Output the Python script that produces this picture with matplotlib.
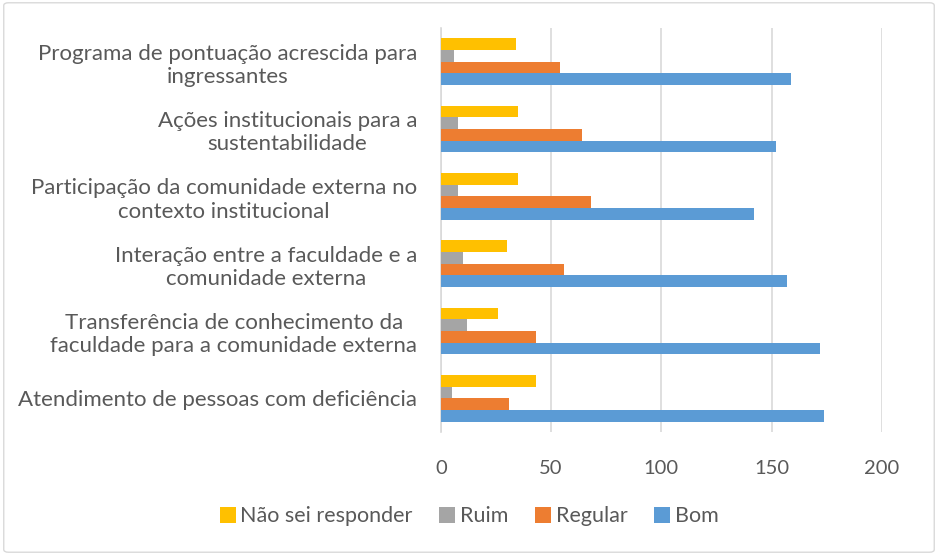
import matplotlib
matplotlib.use("Agg")
import matplotlib.pyplot as plt
import numpy as np
from matplotlib.patches import FancyBboxPatch

categories = [
    "Atendimento de pessoas com deficiência",
    "Transferência de conhecimento da\nfaculdade para a comunidade externa",
    "Interação entre a faculdade e a\ncomunidade externa",
    "Participação da comunidade externa no\ncontexto institucional",
    "Ações institucionais para a\nsustentabilidade",
    "Programa de pontuação acrescida para\ningressantes",
]
bom = [174, 172, 157, 142, 152, 159]
regular = [31, 43, 56, 68, 64, 54]
ruim = [5, 12, 10, 8, 8, 6]
nao_sei = [43, 26, 30, 35, 35, 34]
xticks = [0, 50, 100, 150, 200]

plt.rcParams['font.family'] = ['Lato', 'DejaVu Sans']
txt = '#595959'

fig = plt.figure(figsize=(9.38, 5.55), dpi=100)
ax = fig.add_axes([0.470, 0.2216, 0.470, 0.728])

y = np.arange(len(categories))
h = 0.173
series = [
    ("Bom", bom, '#5B9BD5'),
    ("Regular", regular, '#ED7D31'),
    ("Ruim", ruim, '#A5A5A5'),
    ("Não sei responder", nao_sei, '#FFC000'),
]
handles = {}
for i, (name, vals, col) in enumerate(series):
    off = (i - 1.5) * h
    b = ax.barh(y + off, vals, height=h, color=col, label=name, zorder=3)
    handles[name] = b

ax.set_xlim(0, 200)
ax.set_ylim(-0.5, len(categories) - 0.5)
ax.set_xticks(xticks)
ax.set_xticklabels([str(v) for v in xticks])
ax.set_yticks(y)
ax.set_yticklabels(categories, multialignment='center')
ax.xaxis.grid(True, color='#D9D9D9', linewidth=1.2, zorder=0)
for s in ['top', 'right', 'bottom']:
    ax.spines[s].set_visible(False)
ax.spines['left'].set_color('#D9D9D9')
ax.spines['left'].set_linewidth(1.2)
ax.tick_params(axis='x', length=0, pad=20, labelsize=14.5, labelcolor=txt)
ax.tick_params(axis='y', length=0, pad=17, labelsize=16, labelcolor=txt)

order = ["Não sei responder", "Ruim", "Regular", "Bom"]
fig.legend([handles[n] for n in order], order, loc='center', bbox_to_anchor=(0.5, 0.07),
           ncol=4, frameon=False, fontsize=15.5, labelcolor=txt, handlelength=0.75,
           handleheight=0.75, handletextpad=0.2, columnspacing=1.25)

border = FancyBboxPatch((0.004, 0.005), 0.992, 0.99, boxstyle="round,pad=0,rounding_size=0.005",
                        transform=fig.transFigure, fill=False, edgecolor='#D9D9D9', linewidth=1.0)
fig.patches.append(border)

fig.savefig("out.png", dpi=100)
